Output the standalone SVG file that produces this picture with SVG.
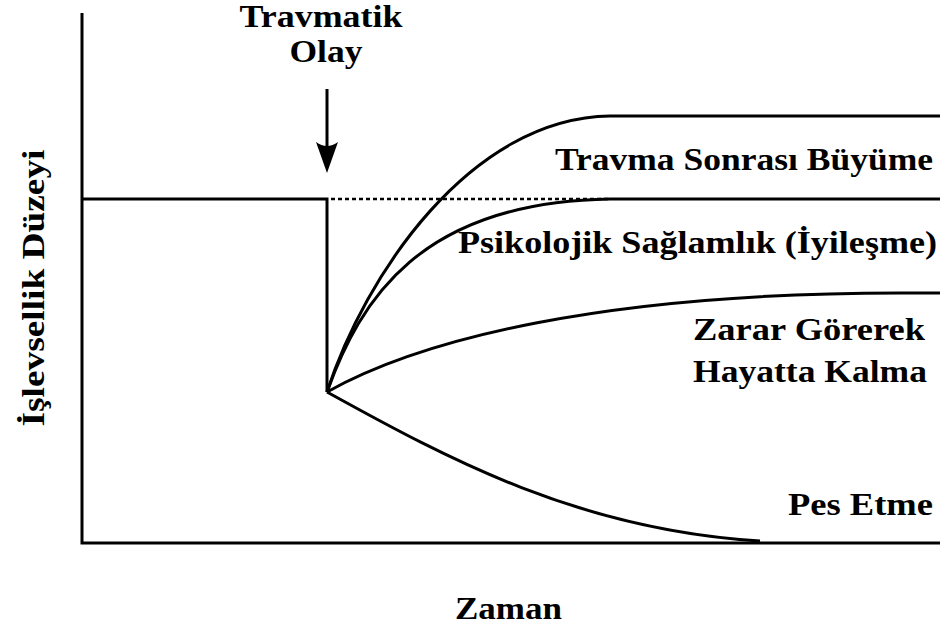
<svg xmlns="http://www.w3.org/2000/svg" width="944" height="629" viewBox="0 0 944 629">
<style>
.ln{fill:none;stroke:#000;stroke-width:3;stroke-linecap:butt;stroke-linejoin:miter}
text{font-family:'Liberation Serif','Times New Roman','DejaVu Serif',serif;font-weight:700;font-size:31px;fill:#000}
</style>
<rect width="944" height="629" fill="#fff"/>
<g id="axes">
<path class="ln" d="M82,13 V543 H940"/>
</g>
<g id="connectors">
<path class="ln" d="M82,199 H327 V392"/>
<path fill="none" stroke="#000" stroke-width="2.5" stroke-dasharray="4,3" d="M331,199 H610"/>
<path class="ln" d="M327,392 C365,275 470,118 610,116 H940"/>
<path class="ln" d="M327,392 C360,300 420,202 610,199 H940"/>
<path class="ln" d="M327,392 C420,340 600,293 900,293 H940"/>
<path class="ln" d="M327,392 C450,460 580,530 760,541"/>
<path class="ln" d="M327,89 V150"/>
<path d="M316,142 Q327,150 338,142 L327,173 Z" fill="#000"/>
</g>
<g id="event">
<text font-family="Liberation Serif, serif" x="321" y="27" text-anchor="middle" textLength="163" lengthAdjust="spacingAndGlyphs">Travmatik</text>
<text font-family="Liberation Serif, serif" x="326" y="62" text-anchor="middle" textLength="73" lengthAdjust="spacingAndGlyphs">Olay</text>
</g>
<g id="growth">
<text font-family="Liberation Serif, serif" x="555" y="170" textLength="378" lengthAdjust="spacingAndGlyphs">Travma Sonrası Büyüme</text>
</g>
<g id="resilience">
<text font-family="Liberation Serif, serif" x="458" y="253" textLength="479" lengthAdjust="spacingAndGlyphs">Psikolojik Sağlamlık (İyileşme)</text>
</g>
<g id="survival">
<text font-family="Liberation Serif, serif" x="693" y="340" textLength="232" lengthAdjust="spacingAndGlyphs">Zarar Görerek</text>
<text font-family="Liberation Serif, serif" x="693" y="382" textLength="234" lengthAdjust="spacingAndGlyphs">Hayatta Kalma</text>
</g>
<g id="succumbing">
<text font-family="Liberation Serif, serif" x="788" y="515" textLength="145" lengthAdjust="spacingAndGlyphs">Pes Etme</text>
</g>
<g id="xlabel">
<text font-family="Liberation Serif, serif" x="455" y="619" textLength="107" lengthAdjust="spacingAndGlyphs">Zaman</text>
</g>
<g id="ylabel">
<text font-family="Liberation Serif, serif" transform="translate(44,288) rotate(-90)" x="0" y="0" text-anchor="middle" textLength="277" lengthAdjust="spacingAndGlyphs">İşlevsellik Düzeyi</text>
</g>
</svg>
